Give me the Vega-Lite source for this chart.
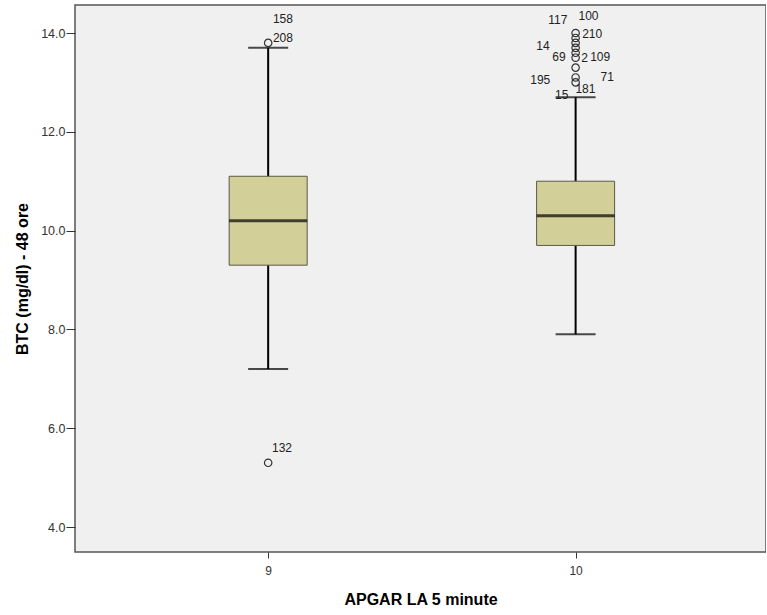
{
  "$schema": "https://vega.github.io/schema/vega-lite/v6.json",
  "width": 691,
  "height": 547,
  "autosize": "none",
  "padding": {"left": 75, "top": 5, "right": 0, "bottom": 63},
  "background": "white",
  "config": {
    "view": {"fill": "#f0f0f0", "stroke": "#555555", "strokeWidth": 1.5},
    "font": "Liberation Sans"
  },
  "datasets": {
    "boxes": [
      {"apgar": 9, "lo": 7.2, "q1": 9.3, "med": 10.2, "q3": 11.1, "hi": 13.7},
      {"apgar": 10, "lo": 7.9, "q1": 9.7, "med": 10.3, "q3": 11.0, "hi": 12.7}
    ],
    "outliers": [
      {"apgar": 9, "btc": 13.8},
      {"apgar": 9, "btc": 5.3},
      {"apgar": 10, "btc": 14.0},
      {"apgar": 10, "btc": 13.9},
      {"apgar": 10, "btc": 13.8},
      {"apgar": 10, "btc": 13.7},
      {"apgar": 10, "btc": 13.6},
      {"apgar": 10, "btc": 13.5},
      {"apgar": 10, "btc": 13.3},
      {"apgar": 10, "btc": 13.1},
      {"apgar": 10, "btc": 13.0}
    ],
    "labels": [
      {"label": "158", "lx": 9.048, "ly": 14.28},
      {"label": "208", "lx": 9.048, "ly": 13.9},
      {"label": "132", "lx": 9.045, "ly": 5.6},
      {"label": "117", "lx": 9.942, "ly": 14.26},
      {"label": "100", "lx": 10.042, "ly": 14.34},
      {"label": "210", "lx": 10.054, "ly": 13.98},
      {"label": "14", "lx": 9.894, "ly": 13.74},
      {"label": "69", "lx": 9.946, "ly": 13.51},
      {"label": "2", "lx": 10.029, "ly": 13.5},
      {"label": "109", "lx": 10.08, "ly": 13.51},
      {"label": "195", "lx": 9.885, "ly": 13.05},
      {"label": "71", "lx": 10.103, "ly": 13.11},
      {"label": "181", "lx": 10.032, "ly": 12.87},
      {"label": "15", "lx": 9.955, "ly": 12.74}
    ]
  },
  "layer": [
    {
      "data": {"name": "boxes"},
      "mark": {"type": "rule", "color": "#000000", "strokeWidth": 2},
      "encoding": {
        "x": {
          "field": "apgar", "type": "quantitative",
          "scale": {"domain": [8.388, 10.603], "nice": false, "zero": false},
          "axis": {
            "values": [9, 10], "format": "d", "title": "APGAR LA 5 minute",
            "grid": false, "domain": false, "tickColor": "#333333", "tickSize": 6,
            "labelFont": "Liberation Sans", "labelFontSize": 12, "labelColor": "#333333",
            "labelPadding": 7,
            "titleFont": "Liberation Sans", "titleFontSize": 16, "titleFontWeight": "bold",
            "titleColor": "#000000", "titlePadding": 15
          }
        },
        "y": {
          "field": "lo", "type": "quantitative",
          "scale": {"domain": [3.494, 14.567], "nice": false, "zero": false},
          "axis": {
            "values": [4, 6, 8, 10, 12, 14], "format": ".1f", "title": "BTC (mg/dl) - 48 ore",
            "grid": false, "domain": false, "tickColor": "#333333", "tickSize": 9,
            "labelFont": "Liberation Sans", "labelFontSize": 12.5, "labelColor": "#333333",
            "labelPadding": 1,
            "titleFont": "Liberation Sans", "titleFontSize": 16, "titleFontWeight": "bold",
            "titleColor": "#000000", "titlePadding": 10
          }
        },
        "y2": {"field": "hi"}
      }
    },
    {
      "data": {"name": "boxes"},
      "mark": {"type": "tick", "color": "#000000", "thickness": 2, "size": 40, "orient": "horizontal"},
      "encoding": {
        "x": {"field": "apgar", "type": "quantitative"},
        "y": {"field": "lo", "type": "quantitative"}
      }
    },
    {
      "data": {"name": "boxes"},
      "mark": {"type": "tick", "color": "#000000", "thickness": 2, "size": 40, "orient": "horizontal"},
      "encoding": {
        "x": {"field": "apgar", "type": "quantitative"},
        "y": {"field": "hi", "type": "quantitative"}
      }
    },
    {
      "data": {"name": "boxes"},
      "mark": {"type": "bar", "fill": "#d3cf98", "stroke": "#5a5a4a", "strokeWidth": 1, "size": 78},
      "encoding": {
        "x": {"field": "apgar", "type": "quantitative"},
        "y": {"field": "q1", "type": "quantitative"},
        "y2": {"field": "q3"}
      }
    },
    {
      "data": {"name": "boxes"},
      "mark": {"type": "tick", "color": "#000000", "thickness": 3, "size": 78, "orient": "horizontal"},
      "encoding": {
        "x": {"field": "apgar", "type": "quantitative"},
        "y": {"field": "med", "type": "quantitative"}
      }
    },
    {
      "data": {"name": "outliers"},
      "mark": {"type": "point", "shape": "circle", "filled": false, "stroke": "#333333", "strokeWidth": 1.2, "size": 55, "opacity": 1},
      "encoding": {
        "x": {"field": "apgar", "type": "quantitative"},
        "y": {"field": "btc", "type": "quantitative"}
      }
    },
    {
      "data": {"name": "labels"},
      "mark": {"type": "text", "font": "Liberation Sans", "fontSize": 12, "color": "#222222", "align": "center", "baseline": "middle"},
      "encoding": {
        "x": {"field": "lx", "type": "quantitative"},
        "y": {"field": "ly", "type": "quantitative"},
        "text": {"field": "label"}
      }
    }
  ]
}
